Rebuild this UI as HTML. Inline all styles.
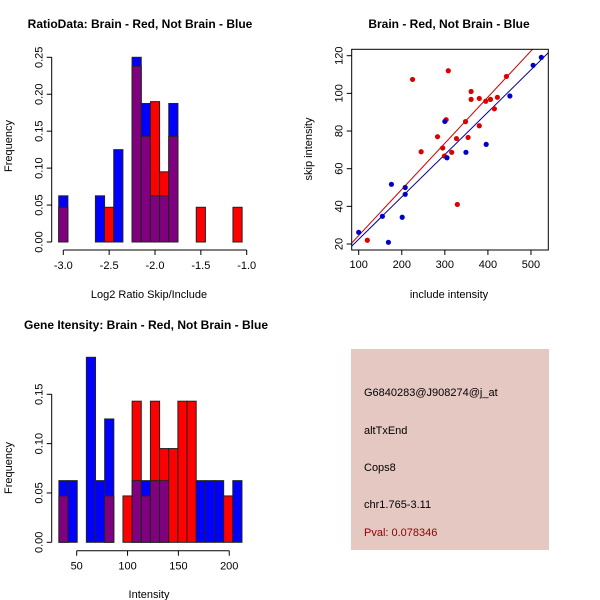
<!DOCTYPE html>
<html><head><meta charset="utf-8"><style>
body{margin:0;background:#fff}
svg{display:block;font-family:"Liberation Sans",sans-serif}
</style></head><body>
<svg id="c" width="600" height="600" viewBox="0 0 600 600" xmlns="http://www.w3.org/2000/svg">
<rect width="600" height="600" fill="#fff"/>
<text x="140" y="28" font-size="12" font-weight="bold" text-anchor="middle">RatioData: Brain - Red, Not Brain - Blue</text>
<text x="449" y="28" font-size="12" font-weight="bold" text-anchor="middle">Brain - Red, Not Brain - Blue</text>
<text x="146" y="329" font-size="12" font-weight="bold" text-anchor="middle">Gene Itensity: Brain - Red, Not Brain - Blue</text>
<text x="149" y="298" font-size="11" text-anchor="middle">Log2 Ratio Skip/Include</text>
<text transform="translate(12,146) rotate(-90)" font-size="11" text-anchor="middle">Frequency</text>
<text x="449" y="298" font-size="11" text-anchor="middle">include intensity</text>
<text transform="translate(312,149) rotate(-90)" font-size="11" text-anchor="middle">skip intensity</text>
<text x="149" y="598" font-size="11" text-anchor="middle">Intensity</text>
<text transform="translate(12,468) rotate(-90)" font-size="11" text-anchor="middle">Frequency</text>
<g>
<rect x="351" y="349" width="198" height="201" fill="#E6C8C2"/>
<text x="364" y="396" font-size="11">G6840283@J908274@j_at</text>
<text x="364" y="434" font-size="11">altTxEnd</text>
<text x="364" y="471" font-size="11">Cops8</text>
<text x="364" y="508" font-size="11">chr1.765-3.11</text>
<text x="364" y="536" font-size="11" fill="#8B0000">Pval: 0.078346</text>
</g>
</svg>
<script>
// ratio histogram data
const ratioBinStarts=[-3.05,-2.65,-2.55,-2.45,-2.25,-2.15,-2.05,-1.95,-1.85,-1.55,-1.15];
const ratioBlue=[0.0625,0.0625,0,0.125,0.25,0.1875,0.0625,0.0625,0.1875,0,0];
const ratioRed=[0.047,0,0.047,0,0.238,0.143,0.19,0.095,0.143,0.047,0.047];
const ratioXTicks=[-3.0,-2.5,-2.0,-1.5,-1.0];
const ratioYTicks=[0,0.05,0.10,0.15,0.20,0.25];
// intensity histogram data
const intBinStart=32.5, intBinWidth=9;
const intBlue=[0.0625,0.0625,0,0.1875,0.0625,0.125,0,0,0.0625,0.0625,0.0625,0.0625,0,0,0,0.0625,0.0625,0.0625,0,0.0625];
const intRed=[0.047,0,0,0,0,0.047,0,0.047,0.143,0.047,0.143,0.095,0.095,0.143,0.143,0,0,0,0.047,0];
const intXTicks=[50,100,150,200];
const intYTicks=[0,0.05,0.10,0.15];
// scatter data
const redX=[120,225,245,283,295,299,303,308,327,316,329,348,354,361,361,380,380,395,406,415,422,443];
const redY=[22,107.4,69,77,71,66.7,86,112,76,68.7,41,85,76.6,101,96.8,97.3,82.8,95.8,96.8,91.8,97.9,109];
const blueX=[100,155,169,176,201,208,208,300,305,349,396,451,505,524];
const blueY=[26.2,34.7,20.9,51.7,34.2,50,46.4,85.1,65.8,68.7,72.9,98.6,114.9,119.1];
const redSlope=0.245, blueSlope=0.225;
const scXTicks=[100,200,300,400,500];
const scYTicks=[20,40,60,80,100,120];

const svg=document.getElementById('c');
const NS='http://www.w3.org/2000/svg';
function mk(tag,attrs,parent){const e=document.createElementNS(NS,tag);for(const k in attrs)e.setAttribute(k,attrs[k]);(parent||svg).appendChild(e);return e;}
function fmt(v,d){return v.toFixed(d);}

function hist(name,starts,width,blue,red,xs,ys,xT,yT,xd,yd,axisY,axisX){
  const g=mk('g',{});
  
  
  for(let i=0;i<blue.length;i++){
    const x0=xs(starts[i]),x1=xs(starts[i]+width);
    const b=blue[i],r=red[i];
    const hi=Math.max(b,r),lo=Math.min(b,r);
    if(hi>0){
      const col=b>=r?'#0000FF':'#FF0000';
      const rc=mk('rect',{x:x0,y:ys(hi),width:x1-x0,height:ys(0)-ys(hi),fill:col,stroke:'#222','stroke-width':1},g);
      
      
    }
    if(lo>0){
      const rc=mk('rect',{x:x0,y:ys(lo),width:x1-x0,height:ys(0)-ys(lo),fill:'#800080',stroke:'#222','stroke-width':1},g);
      
      
    }
  }
  // x axis
  const ax=mk('g',{stroke:'#000','stroke-width':1},g);
  
  
  mk('line',{x1:xs(xT[0]),x2:xs(xT[xT.length-1]),y1:axisY,y2:axisY},ax);
  xT.forEach(t=>{mk('line',{x1:xs(t),x2:xs(t),y1:axisY,y2:axisY+5},ax);
    const tx=mk('text',{x:xs(t),y:axisY+19,'font-size':11,'text-anchor':'middle',stroke:'none'},ax);tx.textContent=fmt(t,xd);});
  const ay=mk('g',{stroke:'#000','stroke-width':1},g);
  
  
  mk('line',{x1:axisX,x2:axisX,y1:ys(yT[0]),y2:ys(yT[yT.length-1])},ay);
  yT.forEach(t=>{mk('line',{x1:axisX,x2:axisX-5,y1:ys(t),y2:ys(t)},ay);
    const tx=mk('text',{transform:`translate(${axisX-9},${ys(t)}) rotate(-90)`,'font-size':11,'text-anchor':'middle',stroke:'none'},ay);tx.textContent=fmt(t,yd);});
}
// ratio hist scales
const rxs=v=>63.3+(v+3)*91.7, rys=v=>242-v*738.8;
hist('ratio-histogram',ratioBinStarts,0.1,ratioBlue,ratioRed,rxs,rys,ratioXTicks,ratioYTicks,1,2,250,51.7);
const ixs=v=>76.7+(v-50)*1.017, iys=v=>542.3-v*986.7;
const intStarts=intBlue.map((_,i)=>intBinStart+i*intBinWidth);
hist('intensity-histogram',intStarts,intBinWidth,intBlue,intRed,ixs,iys,intXTicks,intYTicks,0,2,550.7,51.7);

// scatter
const sx=v=>358.7+(v-100)*0.4307, sy=v=>244-(v-20)*1.883;
const L=351.7,R=548.3,T=49.3,B=250;
const sg=mk('g',{});


mk('clipPath',{id:'cp'},sg);
mk('rect',{x:L,y:T,width:R-L,height:B-T},document.getElementById('cp'));
const xmin=100+(L-358.7)/0.4307, xmax=100+(R-358.7)/0.4307;
const rl=mk('line',{x1:sx(xmin),y1:sy(redSlope*xmin),x2:sx(xmax),y2:sy(redSlope*xmax),stroke:'#CC0000','stroke-width':1,'clip-path':'url(#cp)'},sg);


const bl=mk('line',{x1:sx(xmin),y1:sy(blueSlope*xmin),x2:sx(xmax),y2:sy(blueSlope*xmax),stroke:'#000099','stroke-width':1,'clip-path':'url(#cp)'},sg);


redX.forEach((x,i)=>{const c=mk('circle',{cx:sx(x),cy:sy(redY[i]),r:2.6,fill:'#DD0000'},sg);
  
  });
blueX.forEach((x,i)=>{const c=mk('circle',{cx:sx(x),cy:sy(blueY[i]),r:2.6,fill:'#0000CC'},sg);
  
  });
const box=mk('rect',{x:L,y:T,width:R-L,height:B-T,fill:'none',stroke:'#000','stroke-width':1},sg);


const sxa=mk('g',{stroke:'#000'},sg);


scXTicks.forEach(t=>{mk('line',{x1:sx(t),x2:sx(t),y1:B,y2:B+5},sxa);
  const tx=mk('text',{x:sx(t),y:B+18,'font-size':11,'text-anchor':'middle',stroke:'none'},sxa);tx.textContent=t;});
const sya=mk('g',{stroke:'#000'},sg);


scYTicks.forEach(t=>{mk('line',{x1:L,x2:L-5,y1:sy(t),y2:sy(t)},sya);
  const tx=mk('text',{transform:`translate(${L-9},${sy(t)}) rotate(-90)`,'font-size':11,'text-anchor':'middle',stroke:'none'},sya);tx.textContent=t;});
</script>
</body></html>
